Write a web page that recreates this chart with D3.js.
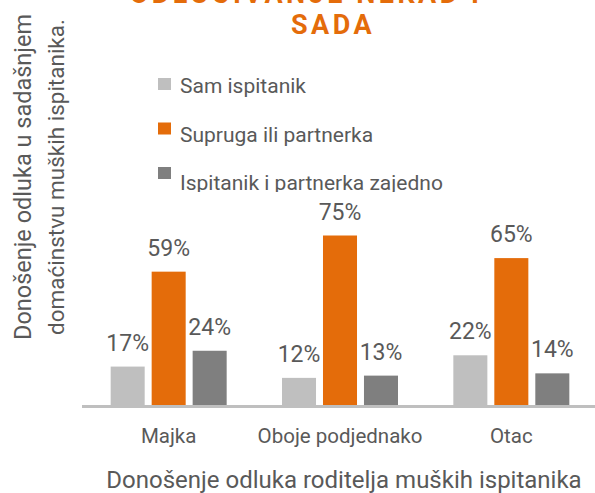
<!DOCTYPE html>
<html><head><meta charset="utf-8">
<script src="https://cdn.jsdelivr.net/npm/d3@7"></script>
<style>body{margin:0;background:#fff}svg{display:block}</style>
</head><body>
<svg id="c" width="595" height="493"></svg>
<script>
const categories = ["Majka", "Oboje podjednako", "Otac"];
const seriesNames = ["Sam ispitanik", "Supruga ili partnerka", "Ispitanik i partnerka zajedno"];
const samIspitanik = [17, 12, 22];
const supruga = [59, 75, 65];
const zajedno = [24, 13, 14];
const colors = ["#BFBFBF", "#E46C0A", "#7F7F7F"];
const titleLines = ["ODLUČIVANJE NEKAD I", "SADA"];
const xTitle = "Donošenje odluka roditelja muških ispitanika";
const yTitle = ["Donošenje odluka u sadašnjem", "domaćinstvu muških ispitanika."];

const series = [samIspitanik, supruga, zajedno];
const svg = d3.select("#c");
const font = "Roboto, 'DejaVu Sans', sans-serif";
const textColor = "#595959";

const x0 = d3.scaleBand().domain(categories).range([83, 597]).padding(0);
const x1 = d3.scaleBand().domain(d3.range(3)).range([0, 116]).paddingInner(0.17);
const baseY = 405;
const y = d3.scaleLinear().domain([0, 100]).range([baseY, baseY - 226]);

// title
svg.append("g").selectAll("text").data(titleLines).join("text")
  .attr("x", (d, i) => i === 0 ? 306 : 333).attr("y", (d, i) => i === 0 ? 3 : 34)
  .attr("text-anchor", "middle")
  .attr("font-family", font).attr("font-weight", "bold").attr("font-size", 27)
  .attr("letter-spacing", 3.5)
  .attr("fill", "#E46C0A").text(d => d);

// legend
const legend = svg.append("g");
svg.append("clipPath").attr("id", "lc").append("rect").attr("x", 0).attr("y", 0).attr("width", 595).attr("height", 192);
const lg = legend.attr("clip-path", "url(#lc)").selectAll("g").data(seriesNames).join("g");
lg.append("rect").attr("x", 158).attr("y", (d, i) => 78 + i * 44.5)
  .attr("width", 13).attr("height", 12).attr("fill", (d, i) => colors[i]);
lg.append("text").attr("x", 180).attr("y", (d, i) => 93.3 + i * 48.3)
  .attr("font-family", font).attr("font-size", 21).attr("fill", textColor).text(d => d);

// bars
const groups = svg.append("g").selectAll("g").data(categories).join("g")
  .attr("transform", d => `translate(${x0(d) + (x0.bandwidth() - 116) / 2},0)`);
groups.selectAll("rect").data((c, ci) => series.map((s, si) => ({si, v: s[ci]}))).join("rect")
  .attr("x", d => x1(d.si)).attr("width", x1.bandwidth())
  .attr("y", d => y(d.v)).attr("height", d => baseY - y(d.v))
  .attr("fill", d => colors[d.si]);
groups.selectAll("text").data((c, ci) => series.map((s, si) => ({si, v: s[ci]}))).join("text")
  .attr("x", d => x1(d.si) + x1.bandwidth() / 2)
  .attr("y", d => y(d.v) - 16)
  .attr("text-anchor", "middle")
  .attr("font-family", font).attr("font-size", 23).attr("fill", textColor)
  .text(d => d.v + "%");

// axis line
svg.append("rect").attr("x", 82).attr("y", 405).attr("width", 513).attr("height", 3).attr("fill", "#BFBFBF");

// category labels
const xAxis = d3.axisBottom(x0).tickSize(0).tickPadding(0);
const ax = svg.append("g").attr("transform", "translate(0,408)").call(xAxis);
ax.select(".domain").remove();
ax.selectAll("text").attr("dy", null).attr("y", 35)
  .attr("font-family", font).attr("font-size", 20.5).attr("fill", textColor);

// axis titles
svg.append("text").attr("x", 344).attr("y", 488).attr("text-anchor", "middle")
  .attr("font-family", font).attr("font-size", 24).attr("fill", textColor).text(xTitle);
svg.append("g").selectAll("text").data(yTitle).join("text")
  .attr("transform", (d, i) => `translate(${31 + i * 33},177) rotate(-90)`)
  .attr("text-anchor", "middle")
  .attr("font-family", font).attr("font-size", (d, i) => i === 0 ? 23.5 : 22.5)
  .attr("fill", textColor).text(d => d);
</script>
</body></html>
